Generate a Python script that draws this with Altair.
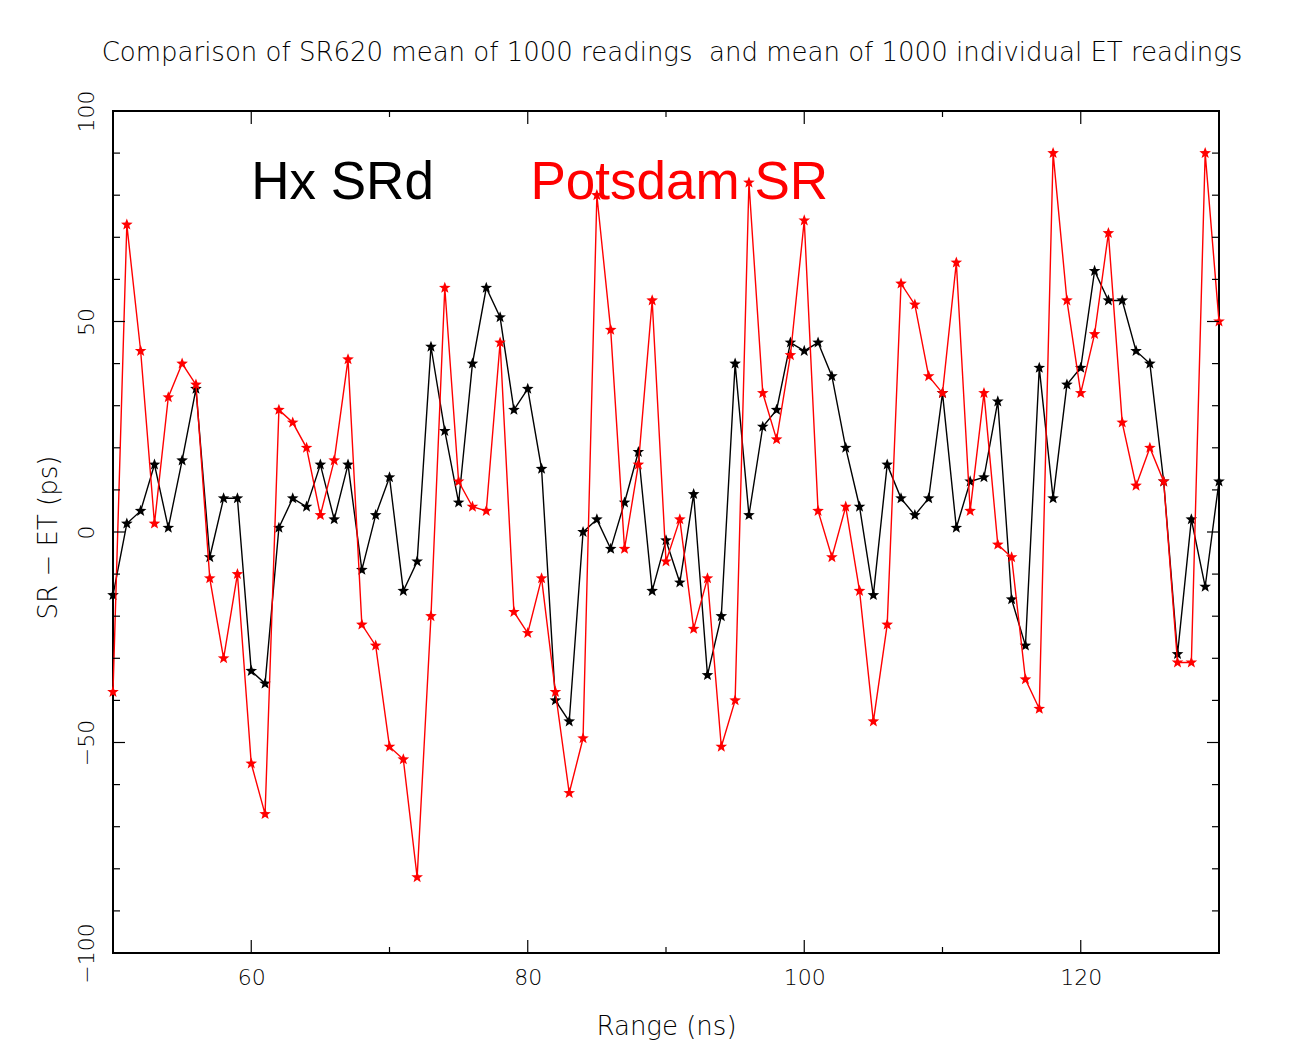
import altair as alt
import pandas as pd

# ---------------- data ----------------
range_ns = list(range(50, 131))

hx_srd = [
    -15, 2, 5, 16, 1, 17, 34, -6, 8, 8,
    -33, -36, 1, 8, 6, 16, 3, 16, -9, 4,
    13, -14, -7, 44, 24, 7, 40, 58, 51, 29,
    34, 15, -40, -45, 0, 3, -4, 7, 19, -14,
    -2, -12, 9, -34, -20, 40, 4, 25, 29, 45,
    43, 45, 37, 20, 6, -15, 16, 8, 4, 8,
    33, 1, 12, 13, 31, -16, -27, 39, 8, 35,
    39, 62, 55, 55, 43, 40, 12, -29, 3, -13,
    12,
]

potsdam_sr = [
    -38, 73, 43, 2, 32, 40, 35, -11, -30, -10,
    -55, -67, 29, 26, 20, 4, 17, 41, -22, -27,
    -51, -54, -82, -20, 58, 12, 6, 5, 45, -19,
    -24, -11, -38, -62, -49, 80, 48, -4, 16, 55,
    -7, 3, -23, -11, -51, -40, 83, 33, 22, 42,
    74, 5, -6, 6, -14, -45, -22, 59, 54, 37,
    33, 64, 5, 33, -3, -6, -35, -42, 90, 55,
    33, 47, 71, 26, 11, 20, 12, -31, -31, 90,
    50,
]

series_names = ["Hx SRd", "Potsdam SR"]
series_colors = ["#000000", "#ff0000"]

x_label_values = [60, 80, 100, 120]
y_label_values = [-100, -50, 0, 50, 100]
x_major_ticks = [60, 80, 100, 120]
x_minor_ticks = [70, 90, 110]
y_major_ticks = [-50, 0, 50]
y_minor_ticks = [-90, -80, -70, -60, -40, -30, -20, -10,
                 10, 20, 30, 40, 60, 70, 80, 90]

title_text = ("Comparison of SR620 mean of 1000 readings \u00a0and mean of "
              "1000 individual ET readings")
x_title = "Range (ns)"
y_title = "SR \u2212 ET (ps)"

# ---------------- layout ----------------
W, H = 1106, 842
FONT = "DejaVu Sans"
FW = 200
LFS = 22
TFS = 26

xs = alt.Scale(domain=[50, 130], nice=False, zero=False)
ys = alt.Scale(domain=[-100, 100], nice=False, zero=False)

star = ("M0,-1L0.247,-0.34L0.951,-0.309L0.399,0.13L0.588,0.809L0,0.42"
        "L-0.588,0.809L-0.399,0.13L-0.951,-0.309L-0.247,-0.34Z")

x_axis = alt.Axis(
    values=x_label_values, title=x_title, grid=False, domain=False,
    ticks=False, tickSize=0, labelPadding=14, labelFont=FONT, labelFontWeight=FW,
    labelFontSize=LFS, labelColor="black", labelBaseline="top", labelFlush=False,
    labelAlign="center",
    titleFont=FONT, titleFontWeight=FW, titleFontSize=TFS, titleColor="black",
    titleX=W / 2, titleY=73, titleAlign="center", titleBaseline="middle",
)
y_axis = alt.Axis(
    values=y_label_values, title=y_title, grid=False, domain=False,
    ticks=False, tickSize=0, labelPadding=27, labelAngle=270, labelAlign="center",
    labelBaseline="middle", labelFont=FONT, labelFontWeight=FW, labelFontSize=LFS,
    labelColor="black", labelFlush=False,
    titleFont=FONT, titleFontWeight=FW, titleFontSize=TFS, titleColor="black",
    titleAngle=270, titleX=-65, titleY=H / 2 + 5, titleAlign="center",
    titleBaseline="middle",
)

layers = []


def series_layers(values, name, color):
    d = pd.DataFrame({"range": range_ns, "diff": values, "series": name})
    xe = alt.X("range:Q", scale=xs, axis=x_axis)
    ye = alt.Y("diff:Q", scale=ys, axis=y_axis)
    line = alt.Chart(d).mark_line(color=color, strokeWidth=1.4).encode(x=xe, y=ye)
    pts = alt.Chart(d).mark_point(
        shape=star, size=150, filled=True, color=color, opacity=1
    ).encode(x=xe, y=ye)
    return [line, pts]


layers += series_layers(hx_srd, series_names[0], series_colors[0])
layers += series_layers(potsdam_sr, series_names[1], series_colors[1])


def xticks(vals, length):
    d = pd.DataFrame({"t": vals})
    xe = alt.X("t:Q", scale=xs, axis=x_axis)
    bottom = alt.Chart(d).mark_rule(color="black", strokeWidth=1.2).encode(
        x=xe, y=alt.value(H), y2=alt.value(H - length))
    top = alt.Chart(d).mark_rule(color="black", strokeWidth=1.2).encode(
        x=xe, y=alt.value(0), y2=alt.value(length))
    return [bottom, top]


def yticks(vals, length):
    d = pd.DataFrame({"t": vals})
    ye = alt.Y("t:Q", scale=ys, axis=y_axis)
    left = alt.Chart(d).mark_rule(color="black", strokeWidth=1.2).encode(
        y=ye, x=alt.value(0), x2=alt.value(length))
    right = alt.Chart(d).mark_rule(color="black", strokeWidth=1.2).encode(
        y=ye, x=alt.value(W), x2=alt.value(W - length))
    return [left, right]


layers += xticks(x_major_ticks, 13) + xticks(x_minor_ticks, 6)
layers += yticks(y_major_ticks, 12) + yticks(y_minor_ticks, 7)


def label_layer(i, xv):
    return alt.Chart(pd.DataFrame({"label": [series_names[i]]})).mark_text(
        font="Liberation Sans", fontSize=53, align="left", baseline="alphabetic",
        color=series_colors[i]
    ).encode(x=alt.X(datum=xv, scale=xs, axis=x_axis),
             y=alt.Y(datum=79, scale=ys, axis=y_axis), text="label:N")


layers += [label_layer(0, 60), label_layer(1, 80.2)]

chart = alt.layer(*layers).properties(
    width=W, height=H,
    title=alt.TitleParams(title_text, font=FONT, fontWeight=FW, fontSize=TFS,
                          color="black", offset=24, anchor="middle", dx=6),
    autosize=alt.AutoSizeParams(type="none"),
    padding={"left": 105, "top": 103, "right": 75, "bottom": 90},
    background="white",
).configure_view(stroke="black", strokeWidth=2)

chart.save("out.html", embed_options={"renderer": "svg", "actions": False})
